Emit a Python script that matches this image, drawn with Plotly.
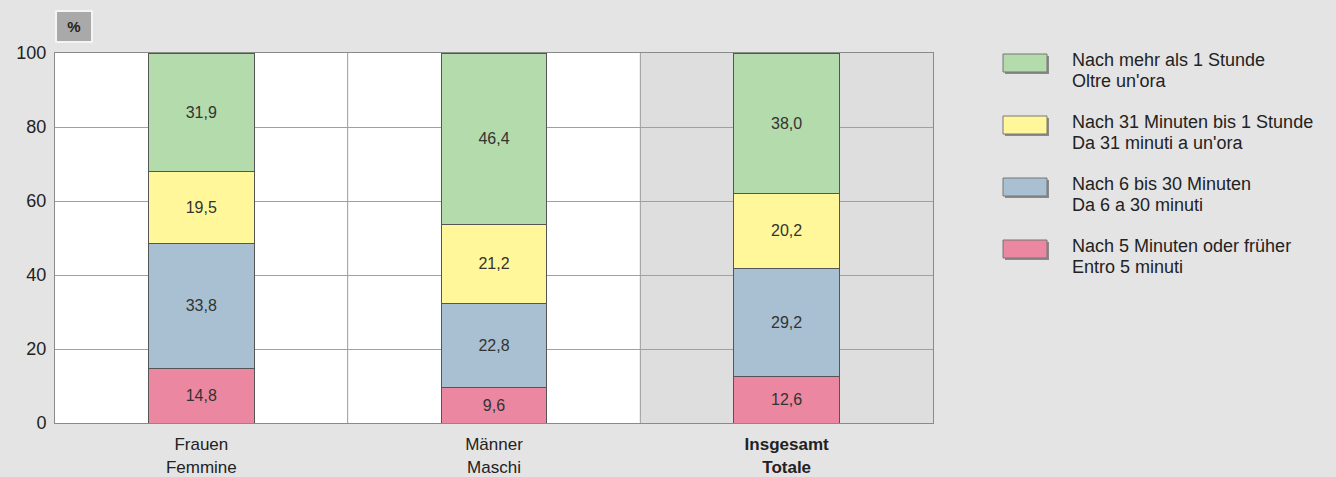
import plotly.graph_objects as go

categories = ["Frauen<br>Femmine", "Männer<br>Maschi", "<b>Insgesamt</b><br><b>Totale</b>"]
series_names = [
    "Nach 5 Minuten oder früher<br>Entro 5 minuti",
    "Nach 6 bis 30 Minuten<br>Da 6 a 30 minuti",
    "Nach 31 Minuten bis 1 Stunde<br>Da 31 minuti a un'ora",
    "Nach mehr als 1 Stunde<br>Oltre un'ora",
]
values_5min = [14.8, 9.6, 12.6]
values_6_30 = [33.8, 22.8, 29.2]
values_31_60 = [19.5, 21.2, 20.2]
values_60plus = [31.9, 46.4, 38.0]
series_values = [values_5min, values_6_30, values_31_60, values_60plus]
colors = ["#eb87a0", "#a8c0d1", "#fff799", "#b3dbab"]
y_ticks = [0, 20, 40, 60, 80, 100]

FONT = "Liberation Sans, Arial, sans-serif"
x = list(range(len(categories)))

fig = go.Figure()
for name, vals, col in zip(series_names, series_values, colors):
    fig.add_trace(go.Bar(
        x=x, y=vals, name=name, width=0.36,
        marker=dict(color=col, line=dict(color="#555555", width=1)),
        text=[f"{v:.1f}".replace(".", ",") for v in vals],
        textposition="inside", insidetextanchor="middle",
        textfont=dict(size=16, color="#333333", family=FONT),
        showlegend=False,
    ))

shapes = []
shapes.append(dict(type="rect", xref="x", yref="y", x0=1.5, x1=2.5, y0=0, y1=100,
                   fillcolor="#dedede", line=dict(width=0), layer="below"))
for xv in [0.5, 1.5]:
    shapes.append(dict(type="line", xref="x", yref="y", x0=xv, x1=xv, y0=0, y1=100,
                       line=dict(color="#9a9a9a", width=1), layer="below"))

annotations = []
leg_x0, leg_x1 = 1003, 1047
W, H = 1336, 477
PW = 933 - 55
PH = 423 - 53
for i, (name, col) in enumerate(zip(reversed(series_names), reversed(colors))):
    top = 54 + i * 62
    shapes.append(dict(type="rect", xref="paper", yref="paper",
                       x0=(leg_x0 + 2 - 55) / PW, x1=(leg_x1 + 2 - 55) / PW,
                       y0=(423 - (top + 20)) / PH, y1=(423 - (top + 2)) / PH,
                       fillcolor="#8a8a8a", line=dict(width=0)))
    shapes.append(dict(type="rect", xref="paper", yref="paper",
                       x0=(leg_x0 - 55) / PW, x1=(leg_x1 - 55) / PW,
                       y0=(423 - (top + 18)) / PH, y1=(423 - top) / PH,
                       fillcolor=col, line=dict(color="#777777", width=1)))
    for j, line in enumerate(name.split("<br>")):
        cy = top + 6 + j * 20.5
        annotations.append(dict(xref="paper", yref="paper",
                                x=(1070 - 55) / PW, y=(423 - cy) / PH,
                                xanchor="left", yanchor="middle", align="left",
                                text=line, showarrow=False,
                                font=dict(size=18, color="#222222", family=FONT)))

annotations.append(dict(xref="paper", yref="paper", x=0, y=(423 - 10) / PH,
                        xanchor="left", yanchor="top", text="<b>%</b>", showarrow=False,
                        bgcolor="#a9a9a9", bordercolor="#f4f4f4", borderwidth=2,
                        borderpad=5, width=24, height=19,
                        font=dict(size=15, color="#222222", family=FONT)))

fig.update_layout(
    barmode="stack",
    width=W, height=H,
    margin=dict(l=55, r=403, t=53, b=54),
    paper_bgcolor="#e4e4e4", plot_bgcolor="#ffffff",
    font=dict(family=FONT, color="#222222"),
    shapes=shapes, annotations=annotations,
    xaxis=dict(tickmode="array", tickvals=x, ticktext=categories, range=[-0.5, 2.5],
               showgrid=False, showline=True, linecolor="#8a8a8a", mirror=True,
               tickfont=dict(size=17, color="#222222"), ticks="", fixedrange=True,
               ticklabelstandoff=6, automargin=False),
    yaxis=dict(range=[0, 100], tickvals=y_ticks, showgrid=True, gridcolor="#a0a0a0",
               gridwidth=1, showline=True, linecolor="#8a8a8a", mirror=True,
               tickfont=dict(size=18, color="#222222"), ticks="", ticklen=0,
               zeroline=False, ticklabelstandoff=4, automargin=False),
)
fig.write_html("out.html", config={"displayModeBar": False},
               post_script="document.body.style.margin='0';document.body.style.background='#e4e4e4';")
